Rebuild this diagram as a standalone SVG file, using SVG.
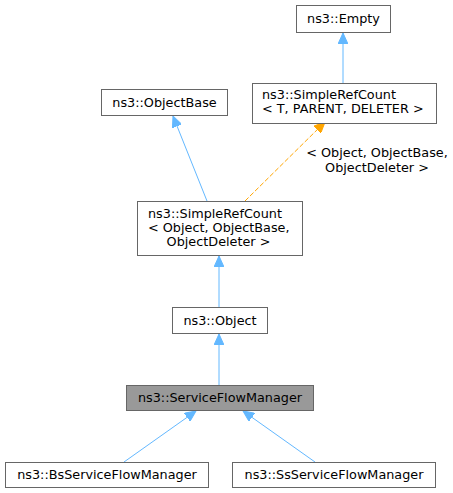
<svg xmlns="http://www.w3.org/2000/svg" width="453" height="493" viewBox="0 0 453 493">
<style>
.box{fill:#ffffff;stroke:#666666;stroke-width:1}
.cur{fill:#999999;stroke:#666666;stroke-width:1}
text{font-family:"DejaVu Sans",sans-serif;font-size:12.8px;fill:#000000}
.c{text-anchor:middle}
.e{fill:none;stroke:#63b8ff;stroke-width:1}
.d{fill:none;stroke:#ffa500;stroke-width:1;stroke-dasharray:5,2}
</style>
<defs>
<marker id="ab" markerWidth="12" markerHeight="10" refX="11" refY="5" orient="auto" markerUnits="userSpaceOnUse">
<path d="M0,0 L11,5 L0,10 Z" fill="#63b8ff" stroke="#63b8ff"/>
</marker>
<marker id="ao" markerWidth="12" markerHeight="10" refX="11" refY="5" orient="auto" markerUnits="userSpaceOnUse">
<path d="M0,0 L11,5 L0,10 Z" fill="#ffa500" stroke="#ffa500"/>
</marker>
</defs>
<g id="edges">
<path class="e" d="M343,83 L343,33" marker-end="url(#ab)"/>
<path class="e" d="M207,201 L173,116" marker-end="url(#ab)"/>
<path class="d" d="M245,201 L325,122" marker-end="url(#ao)"/>
<text class="c" x="377" y="157">&lt; Object, ObjectBase,</text>
<text class="c" x="377" y="171.5">ObjectDeleter &gt;</text>
<path class="e" d="M219,307 L219,256" marker-end="url(#ab)"/>
<path class="e" d="M219,385 L219,334" marker-end="url(#ab)"/>
<path class="e" d="M124,462 L196,411" marker-end="url(#ab)"/>
<path class="e" d="M315,462 L243,411" marker-end="url(#ab)"/>
</g>
<g id="n_empty">
<rect class="box" x="296.5" y="5.5" width="94" height="27"/>
<text class="c" x="343.5" y="23">ns3::Empty</text>
</g>
<g id="n_srct">
<rect class="box" x="252.5" y="83.5" width="184" height="40"/>
<text x="262" y="98.5">ns3::SimpleRefCount</text>
<text x="262" y="112.5">&lt; T, PARENT, DELETER &gt;</text>
</g>
<g id="n_objectbase">
<rect class="box" x="101.5" y="89.5" width="126" height="26"/>
<text class="c" x="164.5" y="106.5">ns3::ObjectBase</text>
</g>
<g id="n_srco">
<rect class="box" x="137.5" y="201.5" width="165" height="54"/>
<text x="148" y="218">ns3::SimpleRefCount</text>
<text x="148" y="232">&lt; Object, ObjectBase,</text>
<text class="c" x="218.5" y="246">ObjectDeleter &gt;</text>
</g>
<g id="n_object">
<rect class="box" x="172.5" y="307.5" width="95" height="26"/>
<text class="c" x="220" y="324.5">ns3::Object</text>
</g>
<g id="n_sfm">
<rect class="cur" x="126.5" y="385.5" width="187" height="25"/>
<text class="c" x="220" y="401.5">ns3::ServiceFlowManager</text>
</g>
<g id="n_bs">
<rect class="box" x="5.5" y="462.5" width="203" height="25"/>
<text class="c" x="107" y="478.5">ns3::BsServiceFlowManager</text>
</g>
<g id="n_ss">
<rect class="box" x="232.5" y="462.5" width="203" height="25"/>
<text class="c" x="334" y="478.5">ns3::SsServiceFlowManager</text>
</g>
</svg>
